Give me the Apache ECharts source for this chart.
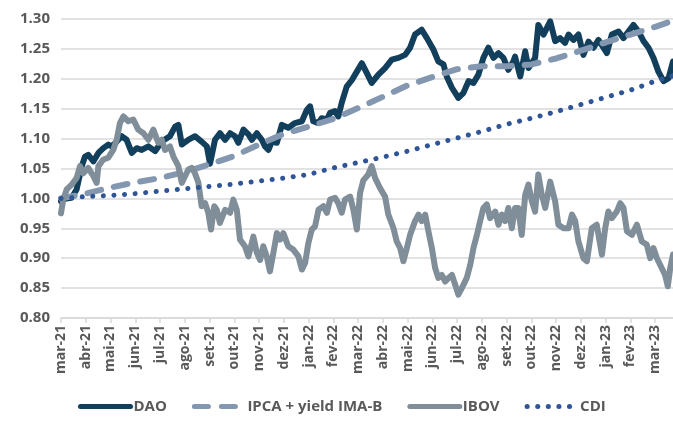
<!DOCTYPE html>
<html>
<head>
<meta charset="utf-8">
<script src="https://cdn.jsdelivr.net/npm/echarts@6/dist/echarts.min.js"></script>
<style>
  html, body { margin: 0; padding: 0; background: #fff; }
  #chart { width: 673px; height: 425px; }
</style>
</head>
<body>
<div id="chart"></div>
<script>
// eixo x: meses desde mar-21 (0 = mar-21)
const months = ['mar-21', 'abr-21', 'mai-21', 'jun-21', 'jul-21', 'ago-21', 'set-21', 'out-21',
  'nov-21', 'dez-21', 'jan-22', 'fev-22', 'mar-22', 'abr-22', 'mai-22', 'jun-22', 'jul-22',
  'ago-22', 'set-22', 'out-22', 'nov-22', 'dez-22', 'jan-23', 'fev-23', 'mar-23']
const lastMonth = 24.72

// [mês, valor]
const dao = [
  [0.00, 0.995], [0.20, 1.000], [0.43, 1.001], [0.63, 1.015], [0.84, 1.054], [0.97, 1.070],
  [1.10, 1.073], [1.31, 1.062], [1.51, 1.076], [1.71, 1.084], [1.91, 1.090], [2.05, 1.087],
  [2.25, 1.095], [2.45, 1.104], [2.65, 1.098], [2.86, 1.076], [3.06, 1.084], [3.26, 1.081],
  [3.53, 1.087], [3.80, 1.079], [4.07, 1.095], [4.40, 1.104], [4.61, 1.120], [4.74, 1.123],
  [4.88, 1.090], [5.14, 1.098], [5.41, 1.104], [5.68, 1.095], [5.89, 1.087], [6.02, 1.058],
  [6.15, 1.084], [6.22, 1.098], [6.42, 1.109], [6.63, 1.098], [6.83, 1.109], [7.03, 1.104],
  [7.16, 1.093], [7.37, 1.115], [7.57, 1.107], [7.71, 1.098], [7.91, 1.109], [8.11, 1.098],
  [8.24, 1.087], [8.38, 1.081], [8.51, 1.095], [8.72, 1.093], [8.92, 1.123], [9.18, 1.118],
  [9.45, 1.126], [9.73, 1.129], [9.93, 1.148], [10.06, 1.154], [10.19, 1.129], [10.40, 1.126],
  [10.53, 1.134], [10.74, 1.132], [10.87, 1.143], [11.07, 1.146], [11.20, 1.137], [11.34, 1.160],
  [11.54, 1.187], [11.75, 1.198], [11.95, 1.212], [12.15, 1.226], [12.35, 1.210], [12.55, 1.193],
  [12.82, 1.207], [13.09, 1.218], [13.36, 1.232], [13.63, 1.235], [13.90, 1.240], [14.10, 1.252],
  [14.30, 1.274], [14.57, 1.282], [14.78, 1.268], [15.04, 1.249], [15.24, 1.229], [15.45, 1.224],
  [15.58, 1.204], [15.79, 1.185], [16.05, 1.168], [16.25, 1.176], [16.46, 1.196], [16.66, 1.193],
  [16.86, 1.207], [17.06, 1.235], [17.26, 1.252], [17.47, 1.235], [17.67, 1.243], [17.87, 1.235],
  [18.07, 1.215], [18.27, 1.229], [18.34, 1.237], [18.55, 1.204], [18.75, 1.246], [18.88, 1.218],
  [19.15, 1.235], [19.28, 1.290], [19.49, 1.274], [19.76, 1.296], [19.96, 1.263], [20.16, 1.268],
  [20.36, 1.260], [20.50, 1.274], [20.70, 1.265], [20.90, 1.274], [21.10, 1.240], [21.31, 1.262],
  [21.51, 1.252], [21.71, 1.265], [21.91, 1.252], [22.05, 1.243], [22.25, 1.274], [22.52, 1.279],
  [22.72, 1.268], [22.92, 1.279], [23.12, 1.290], [23.33, 1.279], [23.53, 1.263], [23.73, 1.252],
  [23.93, 1.235], [24.13, 1.212], [24.34, 1.196], [24.54, 1.201], [24.72, 1.229]
]

const ipca = [
  [0, 1.000], [1, 1.008], [2, 1.018], [3, 1.027], [4, 1.034], [5, 1.044], [6, 1.057],
  [7, 1.071], [8, 1.090], [9, 1.108], [10, 1.120], [11, 1.133], [12, 1.151], [13, 1.170],
  [14, 1.189], [15, 1.203], [16, 1.216], [17, 1.221], [18, 1.221], [19, 1.224], [20, 1.234],
  [21, 1.247], [22, 1.261], [23, 1.274], [24, 1.287], [24.72, 1.297]
]

const ibov = [
  [0.00, 0.975], [0.09, 0.998], [0.23, 1.015], [0.43, 1.023], [0.63, 1.034], [0.77, 1.054],
  [0.90, 1.042], [1.10, 1.051], [1.31, 1.037], [1.44, 1.026], [1.51, 1.054], [1.71, 1.065],
  [1.91, 1.068], [2.11, 1.081], [2.25, 1.098], [2.38, 1.126], [2.52, 1.137], [2.72, 1.129],
  [2.92, 1.132], [3.12, 1.115], [3.33, 1.109], [3.53, 1.098], [3.73, 1.115], [3.93, 1.093],
  [4.07, 1.098], [4.20, 1.081], [4.40, 1.087], [4.54, 1.070], [4.74, 1.054], [4.88, 1.026],
  [5.01, 1.037], [5.14, 1.048], [5.28, 1.051], [5.41, 1.042], [5.55, 1.026], [5.68, 0.987],
  [5.82, 0.992], [5.95, 0.976], [6.06, 0.948], [6.19, 0.987], [6.29, 0.981], [6.42, 0.959],
  [6.63, 0.981], [6.83, 0.976], [6.96, 0.998], [7.10, 0.981], [7.23, 0.931], [7.43, 0.920],
  [7.57, 0.903], [7.77, 0.936], [7.91, 0.909], [8.04, 0.897], [8.17, 0.920], [8.31, 0.903],
  [8.44, 0.878], [8.58, 0.909], [8.72, 0.942], [8.85, 0.931], [8.98, 0.942], [9.18, 0.920],
  [9.39, 0.914], [9.59, 0.903], [9.73, 0.881], [9.86, 0.892], [9.99, 0.925], [10.13, 0.948],
  [10.26, 0.953], [10.40, 0.981], [10.60, 0.987], [10.74, 0.976], [10.87, 0.998], [11.07, 1.001],
  [11.20, 0.992], [11.34, 0.976], [11.47, 0.998], [11.68, 1.003], [11.81, 0.981], [11.95, 0.948],
  [12.08, 1.009], [12.21, 1.030], [12.41, 1.040], [12.55, 1.054], [12.69, 1.034], [12.89, 1.017],
  [13.09, 1.003], [13.22, 0.973], [13.43, 0.950], [13.56, 0.928], [13.70, 0.917], [13.83, 0.895],
  [13.97, 0.917], [14.10, 0.939], [14.30, 0.962], [14.44, 0.973], [14.57, 0.962], [14.71, 0.973],
  [14.84, 0.945], [14.98, 0.917], [15.11, 0.884], [15.24, 0.867], [15.38, 0.872], [15.52, 0.861],
  [15.65, 0.867], [15.79, 0.872], [15.92, 0.856], [16.05, 0.839], [16.19, 0.850], [16.39, 0.867],
  [16.53, 0.889], [16.66, 0.917], [16.80, 0.939], [16.93, 0.962], [17.06, 0.984], [17.20, 0.990],
  [17.33, 0.967], [17.54, 0.978], [17.67, 0.956], [17.81, 0.973], [17.94, 0.962], [18.07, 0.984],
  [18.21, 0.950], [18.34, 0.984], [18.47, 0.984], [18.61, 0.939], [18.75, 1.006], [18.88, 1.023],
  [19.02, 0.995], [19.15, 0.978], [19.28, 1.040], [19.42, 1.006], [19.56, 0.984], [19.76, 1.028],
  [19.96, 0.995], [20.09, 0.956], [20.30, 0.950], [20.50, 0.950], [20.64, 0.973], [20.77, 0.962],
  [20.90, 0.928], [21.10, 0.900], [21.24, 0.895], [21.44, 0.950], [21.64, 0.956], [21.85, 0.906],
  [21.98, 0.950], [22.11, 0.978], [22.25, 0.967], [22.45, 0.978], [22.59, 0.992], [22.72, 0.984],
  [22.86, 0.945], [23.06, 0.939], [23.26, 0.956], [23.46, 0.928], [23.66, 0.923], [23.80, 0.900],
  [23.93, 0.917], [24.07, 0.900], [24.20, 0.889], [24.40, 0.872], [24.51, 0.853], [24.61, 0.884],
  [24.72, 0.906]
]

const cdi = [
  [0, 1.000], [1, 1.003], [2, 1.005], [3, 1.008], [4, 1.012], [5, 1.016], [6, 1.020],
  [7, 1.024], [8, 1.029], [9, 1.034], [10, 1.040], [11, 1.051], [12, 1.060], [13, 1.069],
  [14, 1.079], [15, 1.090], [16, 1.101], [17, 1.112], [18, 1.124], [19, 1.134], [20, 1.145],
  [21, 1.157], [22, 1.169], [23, 1.181], [24, 1.196], [24.72, 1.205]
]

const yMin = 0.80
const yMax = 1.30
const yStep = 0.05

const textColor = '#595959'
const font = '"Open Sans", "Noto Sans", sans-serif'

const chart = echarts.init(document.getElementById('chart'))

const line = (name, data, color, width, type) => ({
  name,
  type: 'line',
  data,
  showSymbol: false,
  symbol: 'none',
  animation: false,
  lineStyle: { color, width, type, cap: 'round', join: 'round' },
  itemStyle: { color }
})

chart.setOption({
  backgroundColor: '#fff',
  animation: false,
  grid: { left: 61, right: 0, top: 19, bottom: 107 },
  xAxis: {
    type: 'value',
    min: 0,
    max: lastMonth,
    interval: 1,
    splitLine: { show: false },
    axisLine: { lineStyle: { color: '#d9d9d9', width: 1.5 } },
    axisTick: { show: true, length: 5, lineStyle: { color: '#d9d9d9', width: 1.5 } },
    axisLabel: {
      rotate: 90,
      margin: 7,
      color: textColor,
      fontFamily: font,
      fontWeight: 'bold',
      fontSize: 14,
      showMaxLabel: false,
      formatter: v => (Number.isInteger(v) ? months[v] || '' : '')
    }
  },
  yAxis: {
    type: 'value',
    min: yMin,
    max: yMax,
    interval: yStep,
    axisLine: { show: false },
    axisTick: { show: false },
    splitLine: { lineStyle: { color: '#d9d9d9', width: 1.5 } },
    axisLabel: {
      margin: 11,
      color: textColor,
      fontFamily: font,
      fontWeight: 'bold',
      fontSize: 15,
      formatter: v => v.toFixed(2)
    }
  },
  legend: {
    bottom: 6,
    left: 73,
    itemWidth: 50,
    itemHeight: 6,
    itemGap: 25,
    itemStyle: { opacity: 0 },
    lineStyle: { width: 5 },
    textStyle: { color: textColor, fontFamily: font, fontWeight: 'bold', fontSize: 15, padding: [0, 0, 0, -2] },
    data: ['DAO', 'IPCA + yield IMA-B', 'IBOV', 'CDI']
  },
  series: [
    line('DAO', dao, '#113f5c', 6, 'solid'),
    line('IPCA + yield IMA-B', ipca, '#8497b0', 6, [14, 13]),
    line('IBOV', ibov, '#7f8e99', 6, 'solid'),
    line('CDI', cdi, '#2f5597', 5, [0.1, 10.5])
  ]
})
</script>
</body>
</html>
